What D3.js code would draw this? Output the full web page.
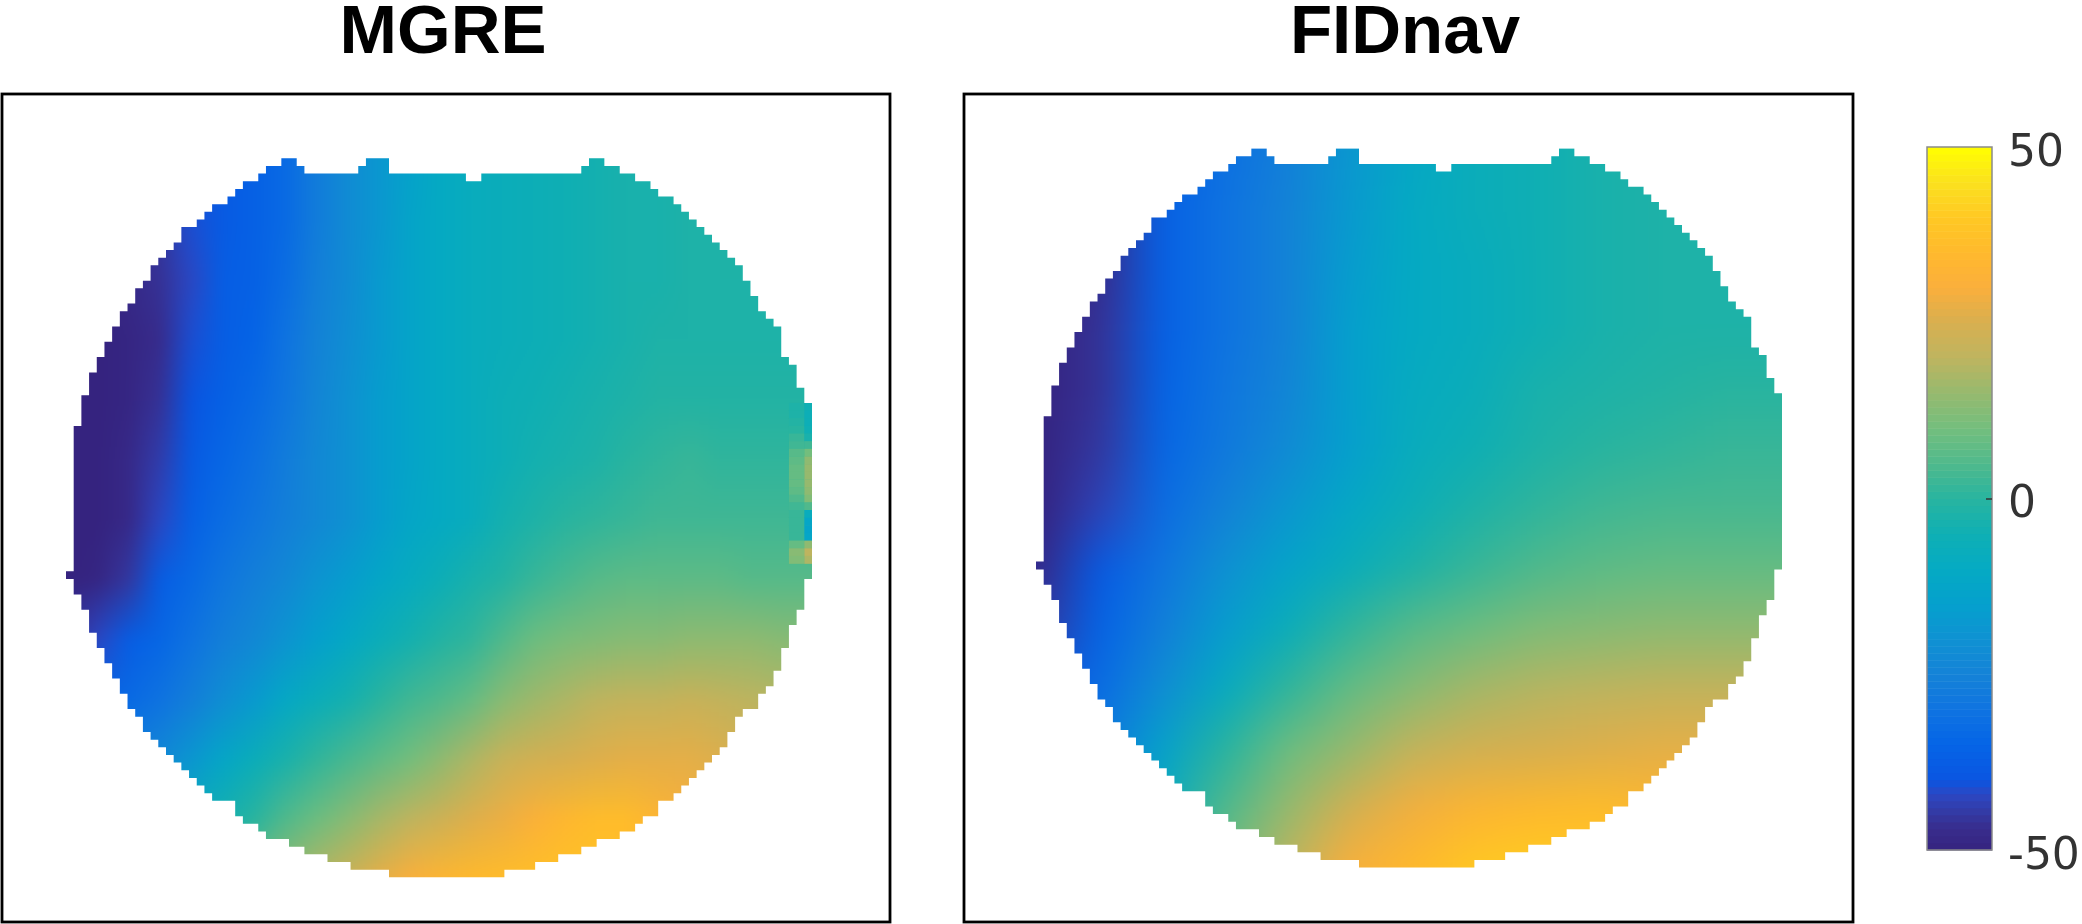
<!DOCTYPE html>
<html>
<head>
<meta charset="utf-8">
<script src="https://cdn.jsdelivr.net/npm/d3@7/dist/d3.min.js"></script>
<style>
html,body{margin:0;padding:0;background:#fff;overflow:hidden}
svg{display:block}
</style>
</head>
<body>
<svg id="chart" width="2082" height="924"></svg>
<script>
const titles = ["MGRE", "FIDnav"];
const colorbarTicks = [50, 0, -50];
const colorDomain = [-50,-47,-45,-42,-40,-35,-30,-25,-20,-15,-10,-5,0,5,10,15,20,25,30,35,40,45,50];
const colorRange = ["#35237f","#382c8c","#3438a0","#2b48c4","#0a55e1","#0564e6","#0f73e1","#1482d7","#0f91d2","#05a0cd","#05aac3","#0fafb4","#28b4a0","#50b98c","#73be7d","#96b96e","#beb45f","#d7af50","#faaf3c","#ffb92d","#ffc823","#fae11e","#ffff00"];

// Image grid, measured in acquisition cells
const nCols = 97, nRows = 94;
const maskLeft = [28,26,25,23,22,21,19,18,17,15,15,14,13,12,11,11,10,9,9,8,7,7,6,6,5,5,4,4,3,3,3,2,2,2,2,
  1,1,1,1,1,1,1,1,1,1,1,1,1,1,1,1,1,1,1,0,1,1,2,2,3,3,3,4,4,5,5,6,6,7,7,8,8,9,10,10,11,12,13,14,15,16,17,18,19,22,22,23,25,26,29,31,34,37,42];
const maskRight = [70,72,74,76,77,79,80,81,82,83,84,85,86,87,88,88,89,89,90,90,91,92,93,93,93,93,94,95,95,95,96,96,
  97,97,97,97,97,97,97,97,97,97,97,97,97,97,97,97,97,97,97,97,97,97,97,96,96,96,96,95,95,94,94,94,93,93,93,92,92,91,90,90,88,87,87,86,86,85,84,83,82,81,80,79,77,77,75,74,72,69,67,64,61,57];
const maskGaps = [[0,30,39],[0,42,68],[1,31,38],[1,42,67],[2,52,54]];

// Phase readings (degrees) on a coarse lattice, one row per line
const mgreValues = [
[-48,-47,-46,-44,-40,-38,-36,-33,-27,-22,-18,-14,-10,-8,-7,-6,-5,-4,-3,-3,-2,-2,-2,-2,-2],
[-49,-48,-47,-45,-41,-38,-36,-33,-27,-22,-18,-13,-10,-8,-7,-6,-5,-4,-3,-3,-2,-2,-1,-1,-1],
[-50,-49,-48,-46,-42,-37,-36,-32,-26,-22,-17,-13,-10,-8,-7,-6,-5,-4,-3,-3,-2,-2,-2,-2,-2],
[-50,-50,-49,-47,-41,-37,-35,-30,-25,-21,-17,-13,-10,-8,-7,-6,-5,-4,-3,-2,-2,-2,-2,-2,-2],
[-50,-50,-49,-46,-40,-36,-33,-29,-24,-20,-16,-13,-10,-8,-6,-5,-4,-3,-2,-1,-1,-1,-1,-1,-1],
[-50,-50,-48,-44,-38,-34,-31,-27,-23,-20,-16,-13,-10,-8,-6,-4,-3,-2,0,1,2,1,1,1,1],
[-50,-50,-48,-42,-36,-32,-29,-26,-23,-20,-16,-12,-10,-8,-4,-2,0,1,2,3,3,3,3,3,3],
[-50,-49,-45,-37,-33,-29,-26,-23,-19,-16,-12,-9,-6,-3,-1,2,4,6,7,7,7,7,6,6,6],
[-46,-42,-37,-34,-30,-26,-23,-19,-15,-11,-7,-4,-1,1,5,9,11,12,13,13,14,14,14,13,13],
[-36,-35,-33,-30,-26,-21,-17,-11,-7,-4,0,3,5,8,13,16,18,20,21,21,22,21,20,19,19],
[-30,-28,-26,-23,-18,-12,-7,-3,1,4,7,10,14,18,22,24,25,26,27,27,27,26,24,22,22],
[-16,-14,-12,-10,-7,-4,0,5,9,13,17,20,23,26,28,31,34,36,36,33,30,28,27,25,25],
[-8,-6,-4,-2,2,6,10,15,19,23,27,30,33,35,36,37,38,38,37,33,30,28,27,26,26]
];
const fidnavValues = [
[-48,-46,-36,-31,-26,-18,-11,-7,-5,-3,-2,-2,-2],
[-49,-47,-36,-30,-25,-17,-10,-7,-5,-3,-2,-2,-2],
[-50,-47,-36,-30,-25,-16,-10,-8,-5,-3,-2,-2,-2],
[-50,-46,-36,-30,-25,-15,-10,-8,-5,-3,-2,-2,-2],
[-50,-46,-35,-29,-24,-15,-9,-7,-3,-2,-1,0,0],
[-50,-45,-34,-28,-22,-15,-8,-5,-2,0,1,2,2],
[-50,-43,-32,-25,-18,-11,-6,-2,1,3,4,4,4],
[-48,-38,-29,-20,-13,-7,-2,2,5,7,8,8,8],
[-45,-35,-26,-16,-7,1,6,9,12,13,14,14,14],
[-40,-32,-21,-9,1,8,13,17,19,20,21,21,21],
[-36,-28,-14,0,9,15,21,24,25,26,27,27,27],
[-25,-18,-8,5,15,24,29,33,35,36,34,32,31],
[-15,-10,0,10,20,30,35,40,41,40,38,36,34]
];
// Local disturbance at the right edge of the MGRE map: [first row, inner cells, outer cells]
const mgreEdgeStart = 32;
const mgreEdgeInner = [-2,-2,-1,0,2,3,6,7,8,8,8,7,5,3,2,2,2,2,8,13,12];
const mgreEdgeOuter = [-5,-6,-6,-5,-3,3,10,14,15,15,15,14,12,5,-8,-12,-13,-12,14,20,18];

const svg = d3.select("#chart");
const defs = svg.append("defs");
const soft = defs.append("filter").attr("id", "soft")
  .attr("color-interpolation-filters", "sRGB")
  .attr("filterUnits", "userSpaceOnUse").attr("x", 0).attr("y", 0).attr("width", 2082).attr("height", 924);
soft.append("feGaussianBlur").attr("stdDeviation", 0.7);
const root = svg.append("g").attr("filter", "url(#soft)");
root.append("rect").attr("width", 2082).attr("height", 924).attr("fill", "#fff");

const color = d3.scaleLinear().domain(colorDomain).range(colorRange).clamp(true);
const cellX = d3.scaleLinear().domain([0, nCols]).range([66, 812]);
const cellY = d3.scaleLinear().domain([0, nRows]).range([158.3, 877]);

function maskPath() {
  const p = d3.path();
  maskLeft.forEach((l, r) => {
    const cuts = maskGaps.filter(g => g[0] === r);
    let start = l;
    cuts.concat([[r, maskRight[r], maskRight[r]]]).forEach(g => {
      p.rect(cellX(start), cellY(r), cellX(g[1]) - cellX(start), cellY(r + 1) - cellY(r) + 0.3);
      start = g[2];
    });
  });
  return p.toString();
}
defs.append("clipPath").attr("id", "brain").append("path").attr("d", maskPath());

// Paints the lattice once per value, then lets the canvas scale it up with smoothing.
function latticeImage(values, w, h, sigma) {
  const small = document.createElement("canvas");
  small.width = values[0].length; small.height = values.length;
  const sctx = small.getContext("2d");
  values.forEach((row, j) => row.forEach((v, i) => {
    sctx.fillStyle = color(v);
    sctx.fillRect(i, j, 1, 1);
  }));
  const big = document.createElement("canvas");
  big.width = Math.round(w); big.height = Math.round(h);
  const ctx = big.getContext("2d");
  ctx.imageSmoothingEnabled = true;
  ctx.imageSmoothingQuality = "low";
  ctx.drawImage(small, 0, 0, big.width, big.height);
  const flat = document.createElement("canvas");
  flat.width = big.width; flat.height = big.height;
  flat.getContext("2d").drawImage(big, 0, 0);
  ctx.filter = `blur(${sigma}px)`;
  ctx.drawImage(flat, 0, 0);
  ctx.filter = "none";
  return big.toDataURL();
}

const panels = [
  {title: titles[0], values: mgreValues, frame: [2, 94, 890, 922], dx: 0, dy: 0, titleX: 443, sigma: 7},
  {title: titles[1], values: fidnavValues, frame: [964, 94, 1853, 922], dx: 970, dy: -9.7, titleX: 1405, sigma: 14}
];

panels.forEach((panel, idx) => {
  const [x0, y0, x1, y1] = panel.frame;
  root.append("rect").attr("x", x0).attr("y", y0).attr("width", x1 - x0).attr("height", y1 - y0)
    .attr("fill", "#fff").attr("stroke", "#000").attr("stroke-width", 2.8);
  root.append("text").attr("x", panel.titleX).attr("y", 53).attr("text-anchor", "middle")
    .attr("font-family", "'Liberation Sans', Arial, sans-serif").attr("font-weight", "bold")
    .attr("font-size", 69).attr("fill", "#000").text(panel.title);

  const g = root.append("g").attr("transform", `translate(${panel.dx},${panel.dy})`)
    .attr("clip-path", "url(#brain)");
  const nx = panel.values[0].length, ny = panel.values.length;
  const latX = d3.scaleLinear().domain([0, nx - 1]).range([cellX(0), cellX(nCols)]);
  const latY = d3.scaleLinear().domain([0, ny - 1]).range([cellY(0), cellY(nRows)]);
  const w = latX(nx - 0.5) - latX(-0.5), h = latY(ny - 0.5) - latY(-0.5);
  g.append("image")
    .attr("href", latticeImage(panel.values, w, h, panel.sigma))
    .attr("x", latX(-0.5)).attr("y", latY(-0.5))
    .attr("width", w).attr("height", h)
    .attr("preserveAspectRatio", "none");

  if (idx === 0) {
    const cells = [];
    mgreEdgeInner.forEach((v, k) => cells.push({r: mgreEdgeStart + k, c0: 94, c1: 96, v}));
    mgreEdgeOuter.forEach((v, k) => cells.push({r: mgreEdgeStart + k, c0: 96, c1: 97, v}));
    g.selectAll("rect.edge").data(cells).join("rect").attr("class", "edge")
      .attr("x", d => cellX(d.c0)).attr("y", d => cellY(d.r))
      .attr("width", d => cellX(d.c1) - cellX(d.c0)).attr("height", d => cellY(d.r + 1) - cellY(d.r) + 0.3)
      .attr("fill", d => color(d.v));
  }
});

// Colour bar
const barY = d3.scaleLinear().domain([-50, 50]).range([850, 147]);
const barX = [1927, 1992];
const bands = d3.range(-50, 50, 1);
root.append("g").selectAll("rect").data(bands).join("rect")
  .attr("x", barX[0]).attr("width", barX[1] - barX[0])
  .attr("y", d => barY(d + 1)).attr("height", d => barY(d) - barY(d + 1) + 0.5)
  .attr("fill", d => color(d + 0.5));
root.append("rect").attr("x", barX[0]).attr("y", barY(50)).attr("width", barX[1] - barX[0]).attr("height", barY(-50) - barY(50))
  .attr("fill", "none").attr("stroke", "#8a8a8a").attr("stroke-width", 1.5);

const axis = d3.axisRight(barY).tickValues(colorbarTicks).tickFormat(d => String(d)).tickSize(0);
const axisG = root.append("g").attr("transform", `translate(${barX[1]},0)`).call(axis);
axisG.select(".domain").remove();
axisG.selectAll(".tick line").attr("x1", -6).attr("x2", 0)
  .attr("stroke", d => d === 0 ? "#333" : "none").attr("stroke-width", 1.5);
axisG.selectAll(".tick text").attr("x", 16).attr("dy", "0.42em")
  .attr("font-family", "'DejaVu Sans', sans-serif").attr("font-size", 44).attr("fill", "#333");
</script>
</body>
</html>
